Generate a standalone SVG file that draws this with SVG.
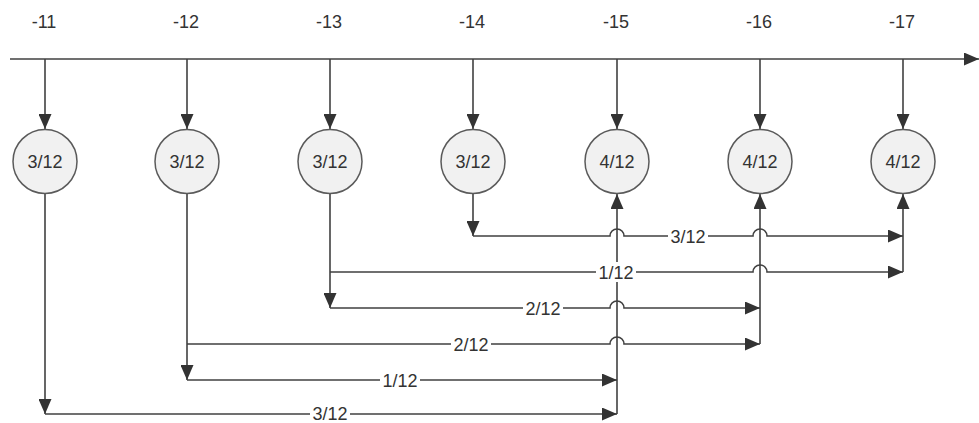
<svg xmlns="http://www.w3.org/2000/svg" width="979" height="423" viewBox="0 0 979 423">
<style>
.ln{fill:none;stroke:#404040;stroke-width:1.6}
.nd{fill:#f1f1f1;stroke:#5a5a5a;stroke-width:1.5}
.tx{font-family:"Liberation Sans",Arial,sans-serif;font-size:18px;fill:#333;text-anchor:middle}
.bg{fill:#fff}
</style>
<defs>
<marker id="ah" markerUnits="userSpaceOnUse" markerWidth="15" markerHeight="13" refX="15" refY="6.5" orient="auto">
<path d="M0,0 L15,6.5 L0,13 z" fill="#333"/>
</marker>
</defs>
<rect width="979" height="423" fill="#fff"/>
<g id="connectors">
<path class="ln" d="M10,59 H979" marker-end="url(#ah)"/>
<path class="ln" d="M45,59 V129" marker-end="url(#ah)"/>
<path class="ln" d="M187,59 V129" marker-end="url(#ah)"/>
<path class="ln" d="M330,59 V129" marker-end="url(#ah)"/>
<path class="ln" d="M473,59 V129" marker-end="url(#ah)"/>
<path class="ln" d="M617,59 V129" marker-end="url(#ah)"/>
<path class="ln" d="M760,59 V129" marker-end="url(#ah)"/>
<path class="ln" d="M903,59 V129" marker-end="url(#ah)"/>
<path class="ln" d="M473,194 V236" marker-end="url(#ah)"/>
<path class="ln" d="M330,194 V308" marker-end="url(#ah)"/>
<path class="ln" d="M187,194 V380" marker-end="url(#ah)"/>
<path class="ln" d="M45,194 V414" marker-end="url(#ah)"/>
<path class="ln" d="M617,414 V194" marker-end="url(#ah)"/>
<path class="ln" d="M760,344 V194" marker-end="url(#ah)"/>
<path class="ln" d="M903,272 V194" marker-end="url(#ah)"/>
<path class="ln" d="M473,236 H610 A7,7 0 0 1 624,236 H753 A7,7 0 0 1 767,236 H903" marker-end="url(#ah)"/>
<path class="ln" d="M330,272 H753 A7,7 0 0 1 767,272 H903" marker-end="url(#ah)"/>
<path class="ln" d="M330,308 H610 A7,7 0 0 1 624,308 H760" marker-end="url(#ah)"/>
<path class="ln" d="M187,344 H610 A7,7 0 0 1 624,344 H760" marker-end="url(#ah)"/>
<path class="ln" d="M187,380 H617" marker-end="url(#ah)"/>
<path class="ln" d="M45,414 H617" marker-end="url(#ah)"/>
<rect class="bg" x="668" y="227" width="40" height="18"/>
<text class="tx" x="688" y="242.5">3/12</text>
<rect class="bg" x="596" y="262" width="40" height="20"/>
<text class="tx" x="616" y="278.5">1/12</text>
<rect class="bg" x="523" y="299" width="40" height="18"/>
<text class="tx" x="543" y="314.5">2/12</text>
<rect class="bg" x="451" y="335" width="40" height="18"/>
<text class="tx" x="471" y="350.5">2/12</text>
<rect class="bg" x="380" y="371" width="40" height="18"/>
<text class="tx" x="400" y="386.5">1/12</text>
<rect class="bg" x="310" y="405" width="40" height="18"/>
<text class="tx" x="330" y="420">3/12</text>
</g>
<g id="n11"><text class="tx" x="44" y="28">-11</text><circle class="nd" cx="45" cy="161.5" r="32"/><text class="tx" x="45" y="168">3/12</text></g>
<g id="n12"><text class="tx" x="186" y="28">-12</text><circle class="nd" cx="187" cy="161.5" r="32"/><text class="tx" x="187" y="168">3/12</text></g>
<g id="n13"><text class="tx" x="329" y="28">-13</text><circle class="nd" cx="330" cy="161.5" r="32"/><text class="tx" x="330" y="168">3/12</text></g>
<g id="n14"><text class="tx" x="472" y="28">-14</text><circle class="nd" cx="473" cy="161.5" r="32"/><text class="tx" x="473" y="168">3/12</text></g>
<g id="n15"><text class="tx" x="616" y="28">-15</text><circle class="nd" cx="617" cy="161.5" r="32"/><text class="tx" x="617" y="168">4/12</text></g>
<g id="n16"><text class="tx" x="759" y="28">-16</text><circle class="nd" cx="760" cy="161.5" r="32"/><text class="tx" x="760" y="168">4/12</text></g>
<g id="n17"><text class="tx" x="902" y="28">-17</text><circle class="nd" cx="903" cy="161.5" r="32"/><text class="tx" x="903" y="168">4/12</text></g>
</svg>
